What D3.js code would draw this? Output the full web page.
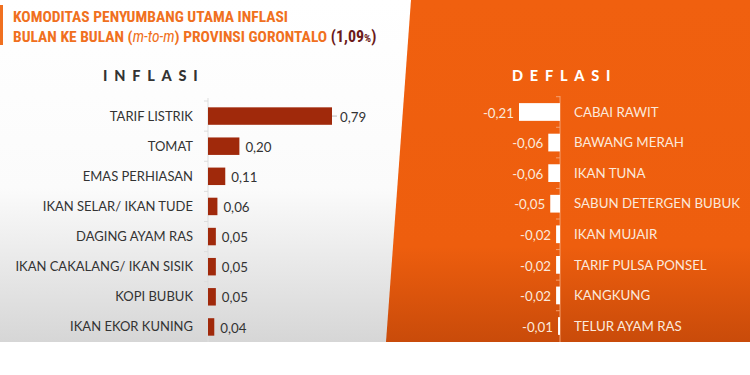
<!DOCTYPE html>
<html><head><meta charset="utf-8">
<script src="https://cdn.jsdelivr.net/npm/d3@7"></script>
<style>body{margin:0;background:#fff}svg{display:block}</style>
</head><body>
<svg id="c" width="750" height="375"></svg>
<script>
const inflCats = ["TARIF LISTRIK","TOMAT","EMAS PERHIASAN","IKAN SELAR/ IKAN TUDE","DAGING AYAM RAS","IKAN CAKALANG/ IKAN SISIK","KOPI BUBUK","IKAN EKOR KUNING"];
const inflVals = [0.79,0.20,0.11,0.06,0.05,0.05,0.05,0.04];
const deflCats = ["CABAI RAWIT","BAWANG MERAH","IKAN TUNA","SABUN DETERGEN BUBUK","IKAN MUJAIR","TARIF PULSA PONSEL","KANGKUNG","TELUR AYAM RAS"];
const deflVals = [-0.21,-0.06,-0.06,-0.05,-0.02,-0.02,-0.02,-0.01];
const fmt = v => v.toFixed(2).replace(".", ",");

const svg = d3.select("#c");
const defs = svg.append("defs");
const lg = defs.append("linearGradient").attr("id","lbg").attr("x1",0).attr("y1",0).attr("x2",0).attr("y2",1);
lg.append("stop").attr("offset","0").attr("stop-color","#ffffff");
lg.append("stop").attr("offset","0.55").attr("stop-color","#fbfbfb");
lg.append("stop").attr("offset","1").attr("stop-color","#d6d6d6");
const og = defs.append("linearGradient").attr("id","obg").attr("x1",0).attr("y1",0).attr("x2",0).attr("y2",1);
og.append("stop").attr("offset","0").attr("stop-color","#f0600f");
og.append("stop").attr("offset","0.72").attr("stop-color","#ee5e0e");
og.append("stop").attr("offset","1").attr("stop-color","#c94b0a");

svg.append("rect").attr("x",0).attr("y",0).attr("width",750).attr("height",342).attr("fill","url(#lbg)");
svg.append("path").attr("d","M411,0 L750,0 L750,342 L386,342 Z").attr("fill","url(#obg)");
svg.append("rect").attr("x",0).attr("y",5).attr("width",3).attr("height",40).attr("fill","#f07020");

// title
const tf = "'Liberation Sans Narrow','Roboto Condensed','Arial Narrow',sans-serif";
svg.append("text").attr("x",13).attr("y",22).attr("font-family",tf).attr("font-weight","bold")
  .attr("font-size",15.5).attr("fill","#f07020").text("KOMODITAS PENYUMBANG UTAMA INFLASI");
const t2 = svg.append("text").attr("x",13).attr("y",42).attr("font-family",tf).attr("font-weight","bold")
  .attr("font-size",15.5).attr("fill","#f07020");
t2.append("tspan").text("BULAN KE BULAN (");
t2.append("tspan").attr("font-style","italic").attr("font-weight","normal").text("m-to-m");
t2.append("tspan").text(") PROVINSI GORONTALO ");
t2.append("tspan").attr("fill","#6b1a1a").attr("font-size",16).text("(1,09");
t2.append("tspan").attr("fill","#6b1a1a").attr("font-size",11).text("%");
t2.append("tspan").attr("fill","#6b1a1a").attr("font-size",16).text(")");

const bf = "Lato, 'Open Sans', sans-serif";
svg.append("text").attr("x",103).attr("y",81).attr("font-family",bf).attr("font-weight","900")
  .attr("font-size",14.5).attr("letter-spacing",6.8).attr("fill","#333").text("INFLASI");
svg.append("text").attr("x",512).attr("y",81).attr("font-family",bf).attr("font-weight","900")
  .attr("font-size",14.5).attr("letter-spacing",6.8).attr("fill","#fff").text("DEFLASI");

// inflasi chart
const yI = d3.scaleBand().domain(inflCats).range([101,342]).paddingInner(0.42).paddingOuter(0.21);
const xI = d3.scaleLinear().domain([0,0.79]).range([208,332]);
const gI = svg.append("g");
gI.append("line").attr("x1",208).attr("x2",208).attr("y1",98).attr("y2",342).attr("stroke","#ddd");
const stepI = yI.step();
inflCats.forEach((c,i)=>{
  const yb = yI(c) - stepI*yI.paddingInner()/2;
  gI.append("line").attr("x1",204).attr("x2",208).attr("y1",yb).attr("y2",yb).attr("stroke","#ddd");
});
gI.selectAll("rect.b").data(inflVals).join("rect").attr("class","b")
  .attr("x",xI(0)).attr("y",(d,i)=>yI(inflCats[i])).attr("width",d=>xI(d)-xI(0)).attr("height",yI.bandwidth())
  .attr("fill","#a0290b");
gI.selectAll("text.c").data(inflCats).join("text").attr("class","c")
  .attr("x",193).attr("y",d=>yI(d)+yI.bandwidth()/2).attr("dy","0.35em").attr("text-anchor","end")
  .attr("font-family",bf).attr("font-size",13).attr("fill","#333").text(d=>d);
gI.selectAll("text.v").data(inflVals).join("text").attr("class","v")
  .attr("x",(d,i)=>xI(d)+(i===0?8:6)).attr("y",(d,i)=>yI(inflCats[i])+yI.bandwidth()/2+1).attr("dy","0.35em")
  .attr("font-family",bf).attr("font-size",13.3).attr("fill","#333").text(d=>fmt(d));
gI.append("line").attr("x1",xI(0.79)).attr("x2",xI(0.79)+5).attr("y1",yI(inflCats[0])+yI.bandwidth()/2).attr("y2",yI(inflCats[0])+yI.bandwidth()/2).attr("stroke","#bbb");

// deflasi chart
const yD = d3.scaleBand().domain(deflCats).range([96.7,341.3]).paddingInner(0.42).paddingOuter(0.21);
const xD = d3.scaleLinear().domain([-0.21,0]).range([519,560]);
const gD = svg.append("g");
gD.append("line").attr("x1",560).attr("x2",560).attr("y1",96).attr("y2",342).attr("stroke","#f4a070");
const stepD = yD.step();
deflCats.forEach((c,i)=>{
  const yb = yD(c) - stepD*yD.paddingInner()/2;
  gD.append("line").attr("x1",556).attr("x2",560).attr("y1",yb).attr("y2",yb).attr("stroke","#f4a070");
});
gD.selectAll("rect.b").data(deflVals).join("rect").attr("class","b")
  .attr("x",d=>xD(d)).attr("y",(d,i)=>yD(deflCats[i])).attr("width",d=>xD(0)-xD(d)).attr("height",yD.bandwidth())
  .attr("fill","#fff");
gD.selectAll("text.c").data(deflCats).join("text").attr("class","c")
  .attr("x",574).attr("y",d=>yD(d)+yD.bandwidth()/2).attr("dy","0.35em")
  .attr("font-family",bf).attr("font-size",13.3).attr("fill","#fbe9dc").text(d=>d);
gD.selectAll("text.v").data(deflVals).join("text").attr("class","v")
  .attr("x",d=>xD(d)-5).attr("y",(d,i)=>yD(deflCats[i])+yD.bandwidth()/2+1).attr("dy","0.35em").attr("text-anchor","end")
  .attr("font-family",bf).attr("font-size",13.3).attr("fill","#fbe9dc").text(d=>fmt(d));
</script>
</body></html>
